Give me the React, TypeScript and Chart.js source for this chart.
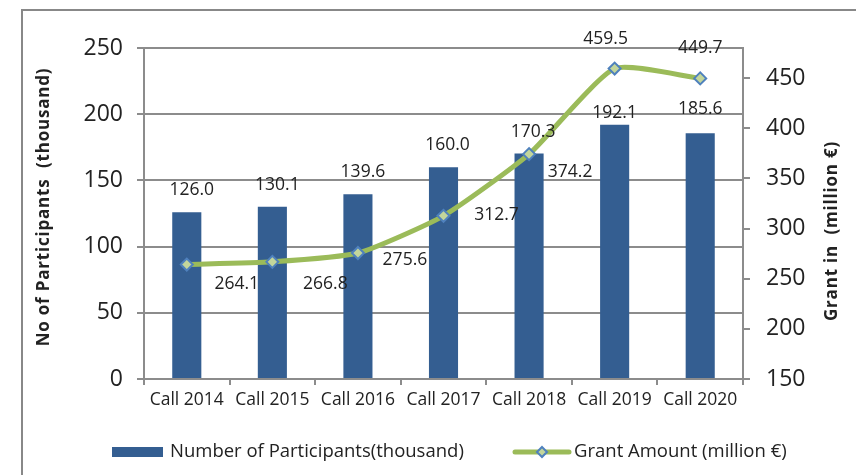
import React, { useEffect, useRef } from "react";
import { Chart, registerables } from "chart.js";

Chart.register(...registerables);

const categories = ["Call 2014", "Call 2015", "Call 2016", "Call 2017", "Call 2018", "Call 2019", "Call 2020"];
const participants = [126.0, 130.1, 139.6, 160.0, 170.3, 192.1, 185.6];
const grantAmount = [264.1, 266.8, 275.6, 312.7, 374.2, 459.5, 449.7];
const leftTicks = [0, 50, 100, 150, 200, 250];
const rightTicks = [150, 200, 250, 300, 350, 400, 450];

const barLabel = "Number of Participants(thousand)";
const lineLabel = "Grant Amount (million €)";
const leftTitle = "No of Participants  (thousand)";
const rightTitle = "Grant in  (million €)";

// label placement offsets (layout only)
const BAR_LABEL_OFFSET: [number, number][] = [[5, -22], [5, -22], [5, -22], [4, -22], [4, -22], [0, -12], [0, -24]];
const LINE_LABEL_OFFSET: [number, number][] = [[50, 19], [53, 22], [47, 7], [53, -1], [41, 18], [-9, -30], [0, -30]];

const BAR_COLOR = "#345E91";
const LINE_COLOR = "#9BBB59";
const MARKER_FILL = "#C3D69B";
const MARKER_BORDER = "#4F81BD";
const AXIS_COLOR = "#8c8c8c";
const TEXT_COLOR = "#222222";
const FONT = "'Open Sans', 'DejaVu Sans', sans-serif";

const decorPlugin = {
  id: "decor",
  afterDraw(chart: any) {
    const ctx = chart.ctx as CanvasRenderingContext2D;
    const W = chart.width;
    const H = chart.height;
    ctx.save();
    // outer frame
    ctx.strokeStyle = "#888888";
    ctx.lineWidth = 2;
    ctx.beginPath();
    ctx.moveTo(22, H + 2);
    ctx.lineTo(22, 10);
    ctx.lineTo(W + 2, 10);
    ctx.stroke();

    // data labels
    ctx.fillStyle = TEXT_COLOR;
    ctx.font = `17.5px ${FONT}`;
    ctx.textAlign = "center";
    ctx.textBaseline = "middle";
    const barMeta = chart.getDatasetMeta(0);
    barMeta.data.forEach((el: any, i: number) => {
      const [dx, dy] = BAR_LABEL_OFFSET[i];
      ctx.fillText(participants[i].toFixed(1), el.x + dx, el.y + dy);
    });
    const lineMeta = chart.getDatasetMeta(1);
    lineMeta.data.forEach((el: any, i: number) => {
      const [dx, dy] = LINE_LABEL_OFFSET[i];
      ctx.fillText(grantAmount[i].toFixed(1), el.x + dx, el.y + dy);
    });

    // axis titles
    ctx.font = `bold 17px ${FONT}`;
    (ctx as any).letterSpacing = "0.8px";
    ctx.save();
    ctx.translate(44, 207);
    ctx.rotate(-Math.PI / 2);
    ctx.fillText(leftTitle, 0, 0);
    ctx.restore();
    ctx.save();
    ctx.translate(832, 231);
    ctx.rotate(-Math.PI / 2);
    ctx.fillText(rightTitle, 0, 0);
    ctx.restore();
    (ctx as any).letterSpacing = "0px";

    // legend
    const ly = 452;
    ctx.fillStyle = BAR_COLOR;
    ctx.fillRect(112, ly - 5, 51, 10);
    ctx.fillStyle = TEXT_COLOR;
    ctx.font = `18.5px ${FONT}`;
    ctx.textAlign = "left";
    ctx.fillText(barLabel, 170, ly);

    ctx.strokeStyle = LINE_COLOR;
    ctx.lineWidth = 5;
    ctx.lineCap = "round";
    ctx.beginPath();
    ctx.moveTo(515, ly);
    ctx.lineTo(569, ly);
    ctx.stroke();
    ctx.lineCap = "butt";
    const mx = 542;
    const r = 5;
    ctx.beginPath();
    ctx.moveTo(mx, ly - r);
    ctx.lineTo(mx + r, ly);
    ctx.lineTo(mx, ly + r);
    ctx.lineTo(mx - r, ly);
    ctx.closePath();
    ctx.fillStyle = MARKER_FILL;
    ctx.fill();
    ctx.strokeStyle = MARKER_BORDER;
    ctx.lineWidth = 2;
    ctx.stroke();
    ctx.fillStyle = TEXT_COLOR;
    ctx.fillText(lineLabel, 574, ly);
    ctx.restore();
  },
};

export default function App() {
  const canvasRef = useRef<HTMLCanvasElement | null>(null);

  useEffect(() => {
    if (!canvasRef.current) return;
    const chart = new Chart(canvasRef.current, {
      type: "bar",
      data: {
        labels: categories,
        datasets: [
          {
            type: "bar",
            label: barLabel,
            data: participants,
            backgroundColor: BAR_COLOR,
            barPercentage: 0.34,
            categoryPercentage: 1,
            yAxisID: "y",
            order: 2,
          },
          {
            type: "line",
            label: lineLabel,
            data: grantAmount,
            borderColor: LINE_COLOR,
            borderWidth: 5,
            tension: 0.18,
            pointStyle: "rectRot",
            pointRadius: 6,
            pointHoverRadius: 6,
            pointBackgroundColor: MARKER_FILL,
            pointBorderColor: MARKER_BORDER,
            pointBorderWidth: 2,
            yAxisID: "y1",
            order: 1,
          } as any,
        ],
      },
      options: {
        animation: false,
        responsive: true,
        maintainAspectRatio: false,
        layout: { padding: { top: 48, left: 0, right: 0, bottom: 0 } },
        plugins: { legend: { display: false }, tooltip: { enabled: false } },
        scales: {
          x: {
            offset: true,
            grid: { offset: true, drawOnChartArea: false, drawTicks: true, tickLength: 6, color: AXIS_COLOR, lineWidth: 2 },
            border: { display: true, color: AXIS_COLOR, width: 2 },
            ticks: { color: TEXT_COLOR, font: { family: FONT, size: 17.5 }, padding: 5, maxRotation: 0, autoSkip: false },
            afterFit: (s: any) => { s.height = 96; },
          },
          y: {
            position: "left",
            min: 0,
            max: 250,
            afterBuildTicks: (s: any) => { s.ticks = leftTicks.map((v) => ({ value: v })); },
            grid: { color: AXIS_COLOR, lineWidth: 2, tickLength: 7, drawTicks: true },
            border: { display: true, color: AXIS_COLOR, width: 2 },
            ticks: { color: TEXT_COLOR, font: { family: FONT, size: 23 }, padding: 14 },
            afterFit: (s: any) => { s.width = 144; },
          },
          y1: {
            position: "right",
            min: 150,
            max: 480,
            afterBuildTicks: (s: any) => { s.ticks = rightTicks.map((v) => ({ value: v })); },
            grid: { drawOnChartArea: false, color: AXIS_COLOR, lineWidth: 2, tickLength: 7, drawTicks: true },
            border: { display: true, color: AXIS_COLOR, width: 2 },
            ticks: { color: TEXT_COLOR, font: { family: FONT, size: 23 }, padding: 16 },
            afterFit: (s: any) => { s.width = 113; },
          },
        },
      },
      plugins: [decorPlugin],
    });
    return () => chart.destroy();
  }, []);

  return (
    <div style={{ position: "fixed", left: 0, top: 0, width: 856, height: 475, background: "#fff" }}>
      <canvas ref={canvasRef} />
    </div>
  );
}
